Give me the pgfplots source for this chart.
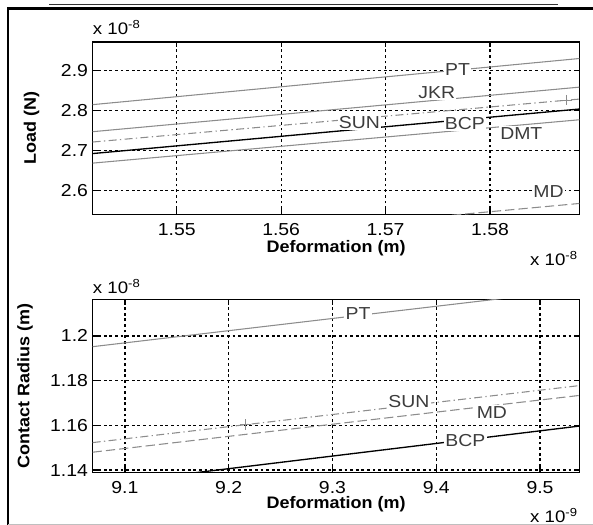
\documentclass[border=0pt]{standalone}
\usepackage{pgfplots}
\pgfplotsset{compat=1.18}
\usepackage{fontspec}
\setmainfont{Liberation Sans}
\newfontfamily\tickfont{Liberation Sans}[FakeStretch=1.12]
\newfontfamily\labfont{Liberation Sans}[FakeStretch=1.08]
\definecolor{lg}{RGB}{140,140,140}
\definecolor{lab}{RGB}{60,60,60}
\pgfplotsset{
  mystyle/.style={
    scale only axis, width=365.1pt, height=129.5pt,
    grid=major,
    major grid style={black, line width=0.9pt, dash pattern=on 2pt off 2.2pt},
    axis line style={line width=1.1pt},
    tick align=inside, major tick length=4pt,
    every tick/.style={black, line width=0.9pt},
    tick label style={font=\tickfont\fontsize{13}{15}\selectfont},
    xticklabel style={yshift=-3.5pt},
    label style={font=\labfont\bfseries\fontsize{12.5}{14}\selectfont},
    /pgf/number format/assume math mode=true,
    scaled ticks=false,
    /pgf/number format/fixed,
    /pgf/number format/precision=2,
    clip mode=individual,
  },
  gl/.style={lg, line width=0.8pt, no marks},
}
\tikzset{lbl/.style={fill=white, inner sep=1pt, text=lab, font=\tickfont\fontsize{13}{15}\selectfont},
  mult/.style={inner sep=0pt, font=\tickfont\fontsize{12.5}{14}\selectfont}}
\begin{document}
\begin{tikzpicture}
\useasboundingbox (0,0) rectangle (444.75pt,393.75pt);
% frame
\draw[line width=1.8pt] (6pt,0pt) -- (6pt,387.5pt) -- (444.75pt,387.5pt);
\draw[line width=0.7pt, black!80] (36.75pt,390.6pt) -- (418.5pt,390.6pt);
\draw[line width=0.7pt, black!25] (6pt,0.6pt) -- (444.75pt,0.6pt);

% ---------- top axis ----------
\begin{axis}[mystyle,
  at={(69.5pt,232.9pt)}, anchor=south west,
  xmin=1.54195, xmax=1.58857, ymin=2.5389, ymax=2.973,
  xtick={1.55,1.56,1.57,1.58}, ytick={2.6,2.7,2.8,2.9},
  xlabel={Deformation (m)}, ylabel={Load (N)},
  xlabel style={at={(axis description cs:0.5,-0.197)}, anchor=center},
  ylabel style={at={(axis description cs:-0.1253,0.5)}, anchor=center},
]
\addplot[gl] coordinates {(1.54195,2.815) (1.58857,2.931)};
\addplot[gl] coordinates {(1.54195,2.747) (1.58857,2.859)};
\addplot[gl, dash pattern=on 6pt off 2.5pt on 1pt off 2.5pt] coordinates {(1.54195,2.721) (1.58857,2.829)};
\addplot[lg, only marks, mark=+, mark size=4pt, mark options={line width=0.8pt}] coordinates {(1.5873,2.8264)};
\addplot[black, line width=1pt, no marks] coordinates {(1.54195,2.692) (1.58857,2.804)};
\addplot[gl] coordinates {(1.54195,2.668) (1.58857,2.777)};
\addplot[gl, dash pattern=on 7pt off 3pt] coordinates {(1.570,2.5215) (1.58857,2.5666)};
\node[lbl] at (axis cs:1.5769,2.904) {PT};
\node[lbl] at (axis cs:1.5749,2.844) {JKR};
\node[lbl] at (axis cs:1.5675,2.769) {SUN};
\node[lbl] at (axis cs:1.5776,2.7685) {BCP};
\node[lbl] at (axis cs:1.5830,2.7426) {DMT};
\node[lbl] at (axis cs:1.5856,2.5958) {MD};
\node[mult, anchor=west] at (rel axis cs:0,1.085) {x 10\textsuperscript{-8}};
\node[mult, anchor=center] at (rel axis cs:0.9476,-0.255) {x 10\textsuperscript{-8}};
\end{axis}

% ---------- bottom axis ----------
\begin{axis}[mystyle,
  at={(69.5pt,39.5pt)}, anchor=south west,
  height=129.8pt,
  xmin=9.0689, xmax=9.538, ymin=1.139, ymax=1.2164,
  xtick={9.1,9.2,9.3,9.4,9.5}, ytick={1.14,1.16,1.18,1.2},
  xlabel={Deformation (m)}, ylabel={Contact Radius (m)},
  xlabel style={at={(axis description cs:0.5,-0.185)}, anchor=center},
  ylabel style={at={(axis description cs:-0.139,0.5)}, anchor=center},
]
\addplot[gl] coordinates {(9.0689,1.1952) (9.538,1.2208)};
\addplot[gl, dash pattern=on 6pt off 2.5pt on 1pt off 2.5pt] coordinates {(9.0689,1.1523) (9.538,1.1778)};
\addplot[lg, only marks, mark=+, mark size=4pt, mark options={line width=0.8pt}] coordinates {(9.216,1.1603)};
\addplot[gl, dash pattern=on 7pt off 3pt] coordinates {(9.0689,1.148) (9.538,1.1734)};
\addplot[black, line width=1pt, no marks] coordinates {(9.10,1.135) (9.538,1.1597)};
\node[lbl] at (axis cs:9.3246,1.2102) {PT};
\node[lbl] at (axis cs:9.3736,1.1706) {SUN};
\node[lbl] at (axis cs:9.4536,1.1657) {MD};
\node[lbl] at (axis cs:9.428,1.1534) {BCP};
\node[mult, anchor=west] at (rel axis cs:0,1.075) {x 10\textsuperscript{-8}};
\node[mult, anchor=center] at (rel axis cs:0.9476,-0.25) {x 10\textsuperscript{-9}};
\end{axis}
\end{tikzpicture}
\end{document}
